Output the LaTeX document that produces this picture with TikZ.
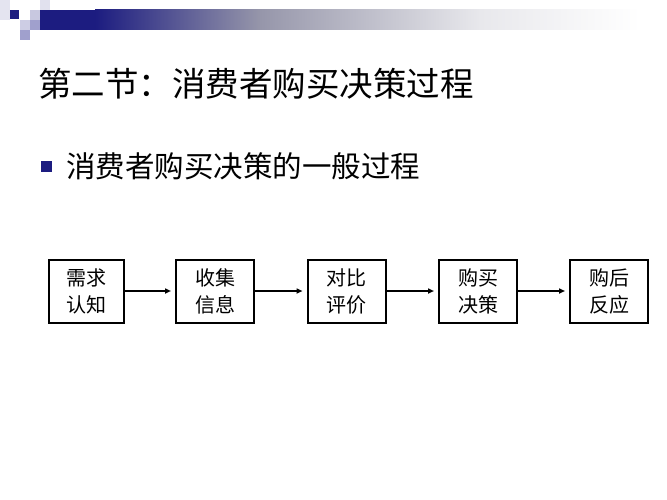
\documentclass[tikz,border=0pt]{standalone}
\usepackage{fontspec}
\newfontfamily\cjk{Noto Sans CJK SC}
\usetikzlibrary{arrows.meta}
\definecolor{navy}{RGB}{28,28,128}
\definecolor{midgray}{RGB}{150,150,170}
\definecolor{ltgray}{RGB}{232,232,236}
\definecolor{sqa}{RGB}{228,228,240}
\definecolor{sqb}{RGB}{225,225,238}
\definecolor{sqc}{RGB}{200,200,224}
\definecolor{sqd}{RGB}{205,205,228}
\definecolor{sqe}{RGB}{160,160,205}
\tikzset{
  stagebox/.style={draw=black, line width=2pt, minimum width=78pt, minimum height=63pt,
    inner sep=0pt, align=center, font=\cjk\fontsize{20pt}{27pt}\selectfont},
  flow/.style={line width=1.6pt, -{Triangle[length=6pt,width=5pt]}, shorten >=4pt}
}
\begin{document}
\begin{tikzpicture}[x=1pt,y=-1pt]
\useasboundingbox (0,0) rectangle (667,500);
\fill[white] (0,0) rectangle (667,500);
% decoration
\fill[navy] (40,10) rectangle (95,30);
\shade[left color=navy, right color=midgray] (95,10) rectangle (260,30);
\shade[left color=midgray, right color=ltgray] (260,10) rectangle (480,30);
\shade[left color=ltgray, right color=white] (480,10) rectangle (640,30);
\fill[sqa] (0,0) rectangle (10,20);
\fill[sqb] (40,0) rectangle (50,10);
\fill[navy] (10,10) rectangle (19,19);
\fill[sqc] (30,10) rectangle (40,20);
\fill[sqd] (20,20) rectangle (30,30);
\fill[sqe] (30,20) rectangle (40,30);
\fill[sqe] (20,30) rectangle (30,40);
% title
\node[anchor=west, inner sep=0pt, font=\cjk\fontsize{33.5pt}{36pt}\selectfont] (title) at (38,84) {第二节：消费者购买决策过程};
\node[fill=navy, minimum size=11pt, inner sep=0pt] (bullet) at (46,167) {};
\node[anchor=west, inner sep=0pt, font=\cjk\fontsize{29.5pt}{32pt}\selectfont] (sub) at (66,166) {消费者购买决策的一般过程};
% boxes
\node[stagebox, minimum width=75pt] (b1) at (86.5,291) {需求\\认知};
\node[stagebox] (b2) at (215,291) {收集\\信息};
\node[stagebox] (b3) at (346.5,291) {对比\\评价};
\node[stagebox] (b4) at (478,291) {购买\\决策};
\node[stagebox] (b5) at (609,291) {购后\\反应};
\draw[flow] (b1) -- (b2);
\draw[flow] (b2) -- (b3);
\draw[flow] (b3) -- (b4);
\draw[flow] (b4) -- (b5);
\end{tikzpicture}
\end{document}
